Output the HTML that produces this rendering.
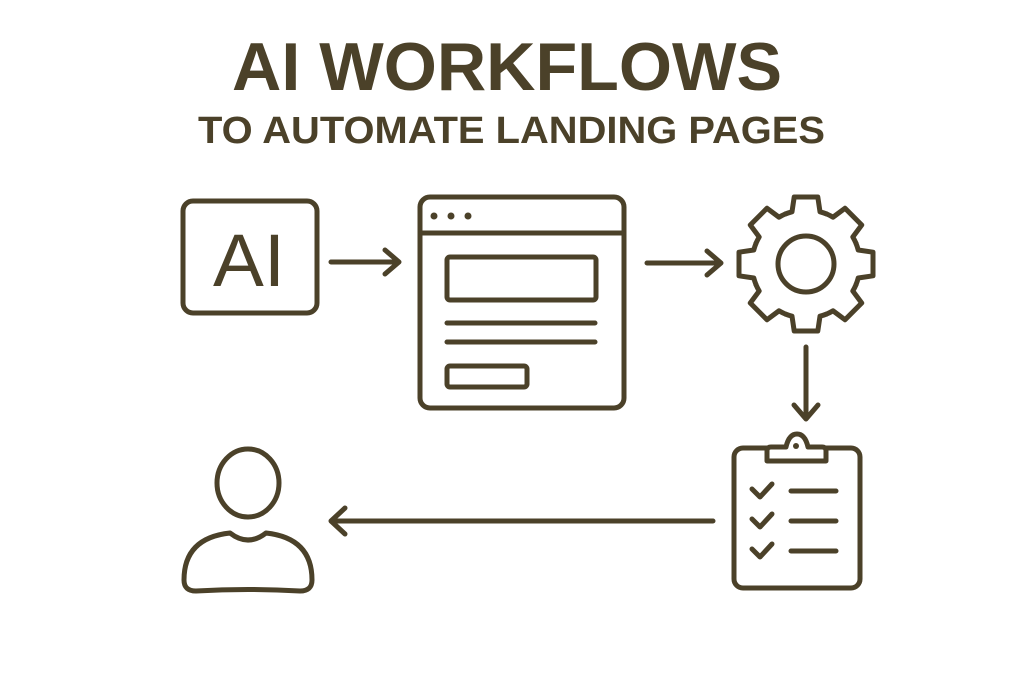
<!DOCTYPE html>
<html><head><meta charset="utf-8"><style>
html,body{margin:0;padding:0;background:#fff;width:1024px;height:683px;overflow:hidden}
svg{display:block}
</style></head><body>
<svg width="1024" height="683" viewBox="0 0 1024 683" xmlns="http://www.w3.org/2000/svg">
<g fill="#4b4129" font-family="Liberation Sans, sans-serif">
<text x="232" y="90" font-size="68" font-weight="bold" textLength="550" lengthAdjust="spacingAndGlyphs">AI WORKFLOWS</text>
<text x="198" y="143" font-size="38" font-weight="bold" textLength="627" lengthAdjust="spacingAndGlyphs">TO AUTOMATE LANDING PAGES</text>
<text x="213" y="286" font-size="74" textLength="72" lengthAdjust="spacingAndGlyphs">AI</text>
</g>
<g fill="none" stroke="#4b4129" stroke-width="5" stroke-linecap="round" stroke-linejoin="round">
<rect x="183" y="201" width="134" height="112" rx="10"/>
<path d="M331 262H398M385 250L399 262L385 274"/>
<rect x="420" y="197" width="204" height="211" rx="10"/>
<path d="M421 233H623"/>
<rect x="447" y="257" width="149" height="43" rx="3"/>
<path d="M447 323H595M447 342H595"/>
<rect x="447" y="366" width="80" height="21" rx="3"/>
<path d="M647 263H720M707 251L721 263L707 275"/>
<g transform="translate(806 264)">
<circle r="28"/>
<g id="t"><path d="M-20.7,-50 A54 54 0 0 1 -14,-52.2 L-11.8,-67 L11.8,-67 L14,-52.2 A54 54 0 0 1 20.7,-50"/></g>
<use href="#t" transform="rotate(45)"/><use href="#t" transform="rotate(90)"/><use href="#t" transform="rotate(135)"/>
<use href="#t" transform="rotate(180)"/><use href="#t" transform="rotate(225)"/><use href="#t" transform="rotate(270)"/><use href="#t" transform="rotate(315)"/>
</g>
<path d="M806 347V418M794 405L806 419L818 405"/>
<rect x="734" y="448" width="126" height="140" rx="9"/>
<path d="M767 461V451Q767 447 771 447H786Q789 434 797 434Q805 434 808 447H822Q826 447 826 451V461Z" fill="#fff"/>
<path d="M752 489L760 497L772 484M791 491H836M752 519L760 527L772 514M791 521H836M752 549L760 557L772 544M791 551H836"/>
<path d="M713 521H332M345 508L331 521L345 534"/>
<ellipse cx="248" cy="483" rx="31" ry="34"/>
<path d="M230 533Q248 547 266 533Q312 538 312 580Q312 591 300 591Q248 588 196 591Q184 591 184 580Q184 538 230 533Z"/>
</g>
<circle cx="434" cy="216" r="3.5" fill="#4b4129"/><circle cx="451" cy="216" r="3.5" fill="#4b4129"/><circle cx="468" cy="216" r="3.5" fill="#4b4129"/>
<circle cx="796" cy="446" r="3" fill="#4b4129"/>
</svg>
</body></html>
